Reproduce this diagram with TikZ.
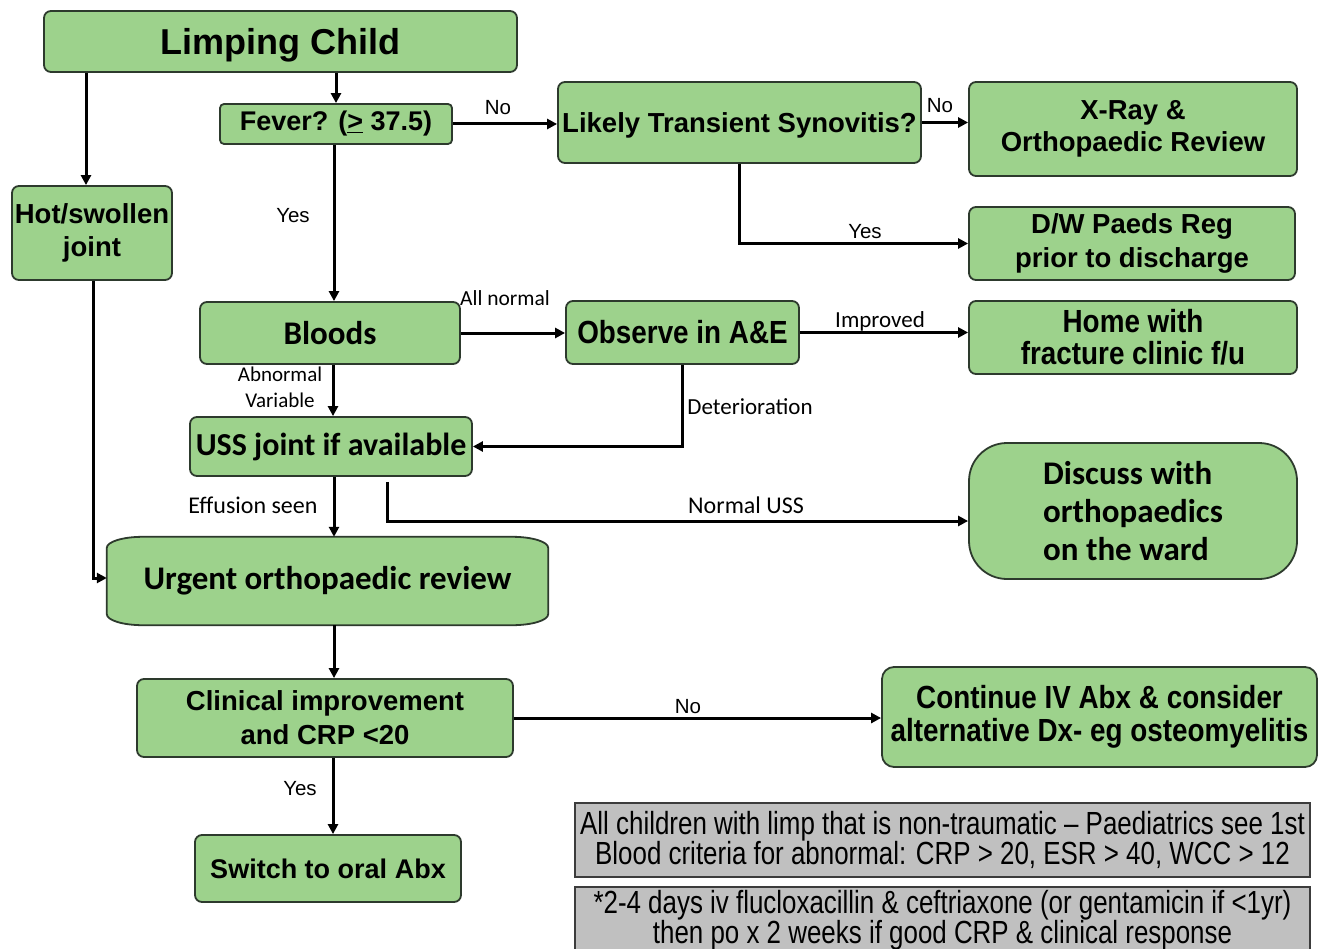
\documentclass[tikz,border=0pt]{standalone}
\usepackage{fontspec}
\setmainfont{Liberation Sans}
\newfontfamily\arialb{Liberation Sans}[BoldFont={* Bold}]
\newfontfamily\calib{Carlito}
\newfontfamily\narrowf{Liberation Sans}[FakeStretch=0.87]
\newfontfamily\narrowg{Liberation Sans}[FakeStretch=0.81]
\usetikzlibrary{arrows.meta,calc,backgrounds}
\definecolor{boxgreen}{RGB}{157,210,140}
\definecolor{boxedge}{RGB}{45,58,45}
\definecolor{boxgray}{RGB}{192,192,192}
\definecolor{grayedge}{RGB}{60,60,60}
\tikzset{
  gbox/.style={draw=boxedge, fill=boxgreen, line width=1.8pt, rounded corners=7pt,
    inner sep=0pt, align=center, text=black},
  graybox/.style={draw=grayedge, fill=boxgray, line width=1.8pt,
    inner sep=0pt, align=center, text=black},
  arr/.style={line width=3pt, draw=black, -{Triangle[length=10pt,width=10pt]}},
  lbl/.style={inner sep=0pt, text=black},
  yn/.style={lbl, font=\fontsize{20.5}{24}\selectfont},
  cl/.style={lbl, font=\calib\fontsize{23}{26}\selectfont},
  bigb/.style={font=\arialb\bfseries\fontsize{27.5}{33}\selectfont},
}
\begin{document}
\begin{tikzpicture}[x=1pt,y=-1pt]
\begin{scope}[on background layer]
\fill[white] (0,0) rectangle (1321,949);
\end{scope}
\useasboundingbox (0,0) rectangle (1321,949);

\node[gbox, minimum width=473, minimum height=61, text depth=0pt, font=\arialb\bfseries\fontsize{36}{40}\selectfont] (lc) at (280.5,41.5) {Limping Child};
\node[gbox, minimum width=232, minimum height=40, rounded corners=4pt, font=\arialb\bfseries\fontsize{27}{30}\selectfont] (fever) at (336,124) {Fever? (\underline{>} 37.5)};
\node[gbox, minimum width=363, minimum height=81, text depth=0pt, bigb] (lts) at (739.5,122.5) {Likely Transient Synovitis?};
\node[gbox, minimum width=328, minimum height=94, font=\arialb\bfseries\fontsize{27.5}{32}\selectfont] (xray) at (1133,129) {X-Ray \&\\Orthopaedic Review};
\node[gbox, minimum width=326, minimum height=73, font=\arialb\bfseries\fontsize{27.5}{34}\selectfont] (dw) at (1132,243.5) {D/W Paeds Reg\\prior to discharge};
\node[gbox, minimum width=160, minimum height=94, font=\arialb\bfseries\fontsize{27.5}{33}\selectfont] (hot) at (92,233) {Hot/swollen\\joint};
\node[gbox, minimum width=260, minimum height=62, font=\calib\bfseries\fontsize{33}{36}\selectfont] (bloods) at (330,333) {Bloods};
\node[gbox, minimum width=233, minimum height=63, font=\narrowf\bfseries\fontsize{32}{34}\selectfont] (obs) at (682.5,332.5) {Observe in A\&E};
\node[gbox, minimum width=328, minimum height=73, font=\narrowf\bfseries\fontsize{32}{32}\selectfont] (home) at (1133,337.5) {Home with\\fracture clinic f/u};
\node[gbox, minimum width=282, minimum height=59, font=\calib\bfseries\fontsize{32}{36}\selectfont] (uss) at (331,446.5) {USS joint if available};
\node[gbox, minimum width=328, minimum height=136, rounded corners=38pt, align=left, font=\calib\bfseries\fontsize{33}{38}\selectfont] (disc) at (1133,511) {Discuss with\\orthopaedics\\on the ward};
\node[inner sep=0pt, minimum width=441, minimum height=88, font=\calib\bfseries\fontsize{33}{36}\selectfont] (urg) at (327.5,581) {Urgent orthopaedic review};
\begin{scope}[on background layer]
\draw[draw=boxedge, fill=boxgreen, line width=1.8pt]
  ([xshift=36pt]urg.north west) -- ([xshift=-36pt]urg.north east)
  arc[start angle=90, end angle=0, x radius=36pt, y radius=11pt]
  -- ([yshift=11pt]urg.south east)
  arc[start angle=0, end angle=-90, x radius=36pt, y radius=11pt]
  -- ([xshift=36pt]urg.south west)
  arc[start angle=-90, end angle=-180, x radius=36pt, y radius=11pt]
  -- ([yshift=-11pt]urg.north west)
  arc[start angle=180, end angle=90, x radius=36pt, y radius=11pt] -- cycle;
\end{scope}
\node[gbox, minimum width=376, minimum height=78, font=\arialb\bfseries\fontsize{27.5}{34}\selectfont] (clin) at (325,718) {Clinical improvement\\and CRP <20};
\node[gbox, minimum width=435, minimum height=100, rounded corners=12pt, font=\narrowf\bfseries\fontsize{32}{33}\selectfont] (cont) at (1099.5,717) {Continue IV Abx \& consider\\alternative Dx- eg osteomyelitis};
\node[gbox, minimum width=266, minimum height=67, font=\arialb\bfseries\fontsize{27}{30}\selectfont] (sw) at (328,868.5) {Switch to oral Abx};
\node[graybox, minimum width=735, minimum height=74, font=\narrowg\fontsize{32}{30}\selectfont] (g1) at (942.5,840) {All children with limp that is non-traumatic – Paediatrics see 1st\\Blood criteria for abnormal: CRP > 20, ESR > 40, WCC > 12};
\node[graybox, minimum width=735, minimum height=66, font=\narrowg\fontsize{32}{30}\selectfont] (g2) at (942.5,920) {*2-4 days iv flucloxacillin \& ceftriaxone (or gentamicin if <1yr)\\then po x 2 weeks if good CRP \& clinical response};

% connectors
\draw[arr] (lc.south -| fever.north) -- (fever.north);
\draw[arr] ([xshift=-6pt]hot.north |- lc.south) -- ([xshift=-6pt]hot.north);
\draw[arr] (fever.east) -- (fever.east -| lts.west);
\draw[arr] (lts.east) -- (lts.east -| xray.west);
\draw[arr] (lts.south) |- (dw.west);
\draw[arr] ([xshift=-2pt]fever.south) -- ([xshift=-2pt]fever.south |- bloods.north);
\draw[arr] (bloods.east) -- (bloods.east -| obs.west);
\draw[arr] (obs.east) -- (obs.east -| home.west);
\draw[arr] ([xshift=3pt]bloods.south) -- ([xshift=3pt]bloods.south |- uss.north);
\draw[arr] (obs.south) |- (uss.east);
\draw[arr] ([xshift=3pt]uss.south) -- ([xshift=3pt]uss.south |- urg.north);
\draw[arr] ([shift={(56pt,-5pt)}]uss.south) |- ([yshift=-10pt]disc.west);
\draw[arr] ([xshift=1pt]hot.south) |- ([yshift=3pt]urg.west);
\draw[arr] ([xshift=3pt]uss.south |- urg.south) -- ([xshift=3pt]uss.south |- clin.north);
\draw[arr] (clin.east) -- (clin.east -| cont.west);
\draw[arr] ([xshift=8pt]clin.south) -- ([xshift=8pt]clin.south |- sw.north);

% labels
\node[yn] (lno1) at (498,108) {No};
\node[yn] (lno2) at (940,106) {No};
\node[yn] (lyes1) at (865,232) {Yes};
\node[yn] (lyes2) at (293,216) {Yes};
\node[yn] (lno3) at (688,707) {No};
\node[yn] (lyes3) at (300,789) {Yes};
\node[cl, font=\calib\fontsize{21.5}{26}\selectfont] (lall) at (505,298) {All normal};
\node[cl] (limp) at (880,321) {Improved};
\node[cl, align=center, font=\calib\fontsize{21}{26}\selectfont] (labn) at (280,387) {Abnormal\\Variable};
\node[cl] (ldet) at (750,407) {Deterioration};
\node[cl, font=\calib\fontsize{24}{26}\selectfont] (leff) at (253,505) {Effusion seen};
\node[cl, font=\calib\fontsize{24}{26}\selectfont] (lnorm) at (746,505) {Normal USS};
\end{tikzpicture}
\end{document}
